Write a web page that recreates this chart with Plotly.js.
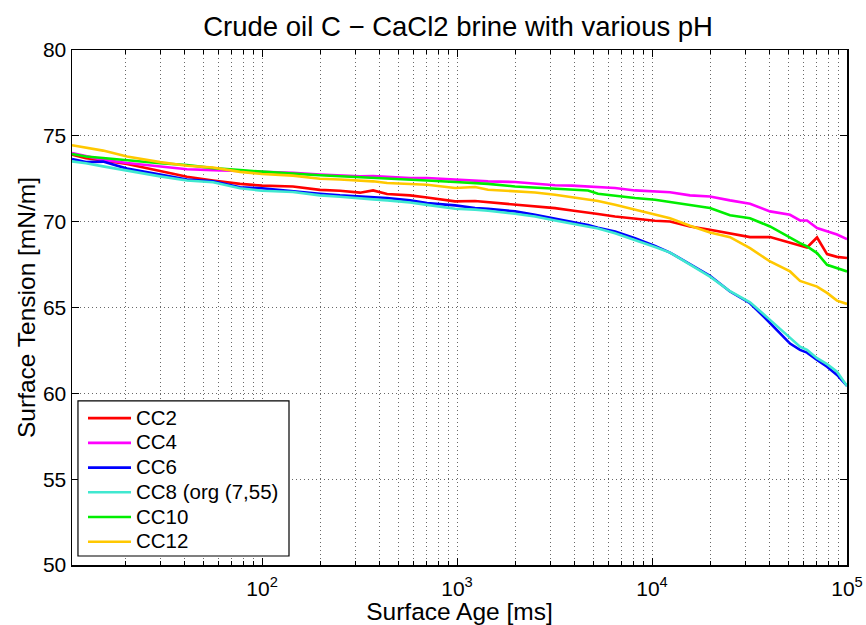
<!DOCTYPE html>
<html>
<head>
<meta charset="utf-8">
<script src="https://cdn.plot.ly/plotly-3.0.1.min.js"></script>
<style>html,body{margin:0;padding:0;background:#fff;}#chart{width:866px;height:625px;}</style>
</head>
<body>
<div id="chart"></div>
<script>
// Surface age [ms]
const surfaceAge = [10.6, 12.5, 15.3, 20.3, 30.0, 41.2, 56.1, 77.1, 100, 144, 198, 251, 318, 371, 438, 574, 702, 977, 1237, 1442, 1983, 2512, 3181, 3889, 4697, 5284, 6462, 8180, 10360, 12370, 15660, 19830, 25120, 31810, 40290, 51030, 57410, 62360, 70210, 78990, 88860, 100000];

// Surface tension [mN/m]
const cc2  = [73.9, 73.7, 73.57, 73.36, 72.95, 72.62, 72.4, 72.2, 72.1, 72.05, 71.85, 71.8, 71.69, 71.82, 71.61, 71.53, 71.41, 71.18, 71.2, 71.14, 70.98, 70.9, 70.79, 70.65, 70.54, 70.45, 70.3, 70.17, 70.05, 70.01, 69.72, 69.53, 69.33, 69.1, 69.1, 68.79, 68.65, 68.5, 69.08, 68.11, 67.95, 67.88];
const cc4  = [74.0, 73.8, 73.6, 73.42, 73.2, 73.05, 73.0, 72.95, 72.93, 72.85, 72.75, 72.7, 72.64, 72.66, 72.6, 72.54, 72.54, 72.45, 72.4, 72.35, 72.31, 72.21, 72.12, 72.1, 72.05, 72.02, 71.96, 71.82, 71.76, 71.71, 71.53, 71.47, 71.24, 71.04, 70.6, 70.4, 70.07, 70.07, 69.63, 69.43, 69.25, 68.98];
const cc6  = [73.65, 73.47, 73.5, 73.09, 72.74, 72.45, 72.35, 72.0, 71.95, 71.76, 71.63, 71.53, 71.47, 71.45, 71.38, 71.24, 71.08, 70.95, 70.8, 70.75, 70.6, 70.4, 70.17, 70.0, 69.8, 69.65, 69.43, 69.04, 68.59, 68.2, 67.55, 66.85, 65.93, 65.25, 64.1, 62.9, 62.53, 62.37, 61.95, 61.55, 61.07, 60.43];
const cc8  = [73.51, 73.4, 73.22, 72.97, 72.64, 72.4, 72.3, 71.95, 71.8, 71.73, 71.53, 71.45, 71.38, 71.3, 71.24, 71.12, 70.98, 70.75, 70.7, 70.64, 70.46, 70.3, 70.07, 69.9, 69.72, 69.6, 69.33, 68.94, 68.52, 68.2, 67.5, 66.8, 65.95, 65.3, 64.28, 63.2, 62.72, 62.53, 62.05, 61.7, 61.26, 60.43];
const cc10 = [73.94, 73.8, 73.71, 73.57, 73.4, 73.3, 73.12, 73.0, 72.93, 72.8, 72.7, 72.65, 72.58, 72.55, 72.5, 72.45, 72.4, 72.31, 72.25, 72.2, 72.05, 71.98, 71.9, 71.86, 71.82, 71.63, 71.51, 71.38, 71.28, 71.14, 70.95, 70.8, 70.37, 70.2, 69.72, 69.04, 68.75, 68.56, 68.17, 67.49, 67.3, 67.1];
const cc12 = [74.45, 74.3, 74.14, 73.8, 73.47, 73.26, 73.16, 72.9, 72.78, 72.68, 72.5, 72.46, 72.4, 72.35, 72.25, 72.19, 72.15, 71.96, 72.02, 71.86, 71.76, 71.7, 71.57, 71.43, 71.28, 71.2, 70.98, 70.69, 70.38, 70.2, 69.76, 69.37, 69.1, 68.46, 67.68, 67.1, 66.55, 66.4, 66.22, 65.85, 65.4, 65.21];

const seriesNames = ["CC2", "CC4", "CC6", "CC8 (org (7,55)", "CC10", "CC12"];
const seriesValues = [cc2, cc4, cc6, cc8, cc10, cc12];
const seriesColors = ["#ff0000", "#ff00ff", "#0000ff", "#40e8d0", "#00ee00", "#ffc800"];

const xMajorTicks = [100, 1000, 10000, 100000];
const xMajorLabels = ["10<sup>2</sup>", "10<sup>3</sup>", "10<sup>4</sup>", "10<sup>5</sup>"];
const xMinorTicks = [20,30,40,50,60,70,80,90,200,300,400,500,600,700,800,900,2000,3000,4000,5000,6000,7000,8000,9000,20000,30000,40000,50000,60000,70000,80000,90000];

const FONT = "'Liberation Sans', Arial, Helvetica, sans-serif";
const gridCol = "rgba(40,40,40,0.7)";

const traces = seriesNames.map((n, i) => ({
  x: surfaceAge, y: seriesValues[i], type: "scatter", mode: "lines",
  name: '<span style="font-size:20.5px">' + n + '</span>',
  line: {color: seriesColors[i], width: 2.6}
}));

const layout = {
  width: 866, height: 625,
  paper_bgcolor: "#fff", plot_bgcolor: "#fff",
  margin: {l: 72, r: 19, t: 50, b: 60},
  font: {family: FONT, color: "#000", size: 21},
  title: {text: "Crude oil C − CaCl2 brine with various pH", font: {family: FONT, size: 27.5, color: "#000"},
          x: 0.529, xanchor: "center", y: 0.958, yanchor: "middle"},
  xaxis: {
    type: "log", range: [Math.log10(10.6), 5],
    tickmode: "array", tickvals: xMajorTicks, ticktext: xMajorLabels,
    ticks: "inside", ticklen: 7, tickwidth: 1, tickcolor: "#000",
    ticklabelstandoff: 4,
    showline: true, linecolor: "#000", linewidth: 1.5, mirror: "allticks",
    showgrid: true, gridcolor: gridCol, griddash: "1px,3px", gridwidth: 1,
    minor: {tickmode: "array", tickvals: xMinorTicks, ticks: "inside", ticklen: 4, tickcolor: "#000",
            showgrid: true, gridcolor: gridCol, griddash: "1px,3px", gridwidth: 1},
    tickfont: {size: 21, family: FONT},
    zeroline: false,
    title: {text: "Surface Age [ms]", font: {size: 24.5, family: FONT}, standoff: 2}
  },
  yaxis: {
    range: [50, 80], tickmode: "linear", tick0: 50, dtick: 5,
    ticks: "inside", ticklen: 7, tickcolor: "#000",
    showline: true, linecolor: "#000", linewidth: 1.5, mirror: "allticks",
    showgrid: true, gridcolor: gridCol, griddash: "1px,3px", gridwidth: 1,
    tickfont: {size: 21, family: FONT},
    zeroline: false,
    title: {text: "Surface Tension [mN/m]", font: {size: 24.5, family: FONT}, standoff: 0}
  },
  shapes: [{
    type: "rect", xref: "paper", yref: "paper", layer: "above",
    x0: 0.0077, x1: 0.28, y0: 0.0175, y1: 0.3188,
    fillcolor: "#fff", line: {color: "#000", width: 1.2}
  }],
  showlegend: true,
  legend: {
    x: 0.0142, y: 0.3188, xanchor: "left", yanchor: "top",
    bgcolor: "rgba(0,0,0,0)", borderwidth: 0,
    font: {size: 16.7, family: FONT, color: "#000"},
    itemwidth: 43, tracegroupgap: 0
  }
};

Plotly.newPlot("chart", traces, layout, {displayModeBar: false, staticPlot: true});
</script>
</body>
</html>
